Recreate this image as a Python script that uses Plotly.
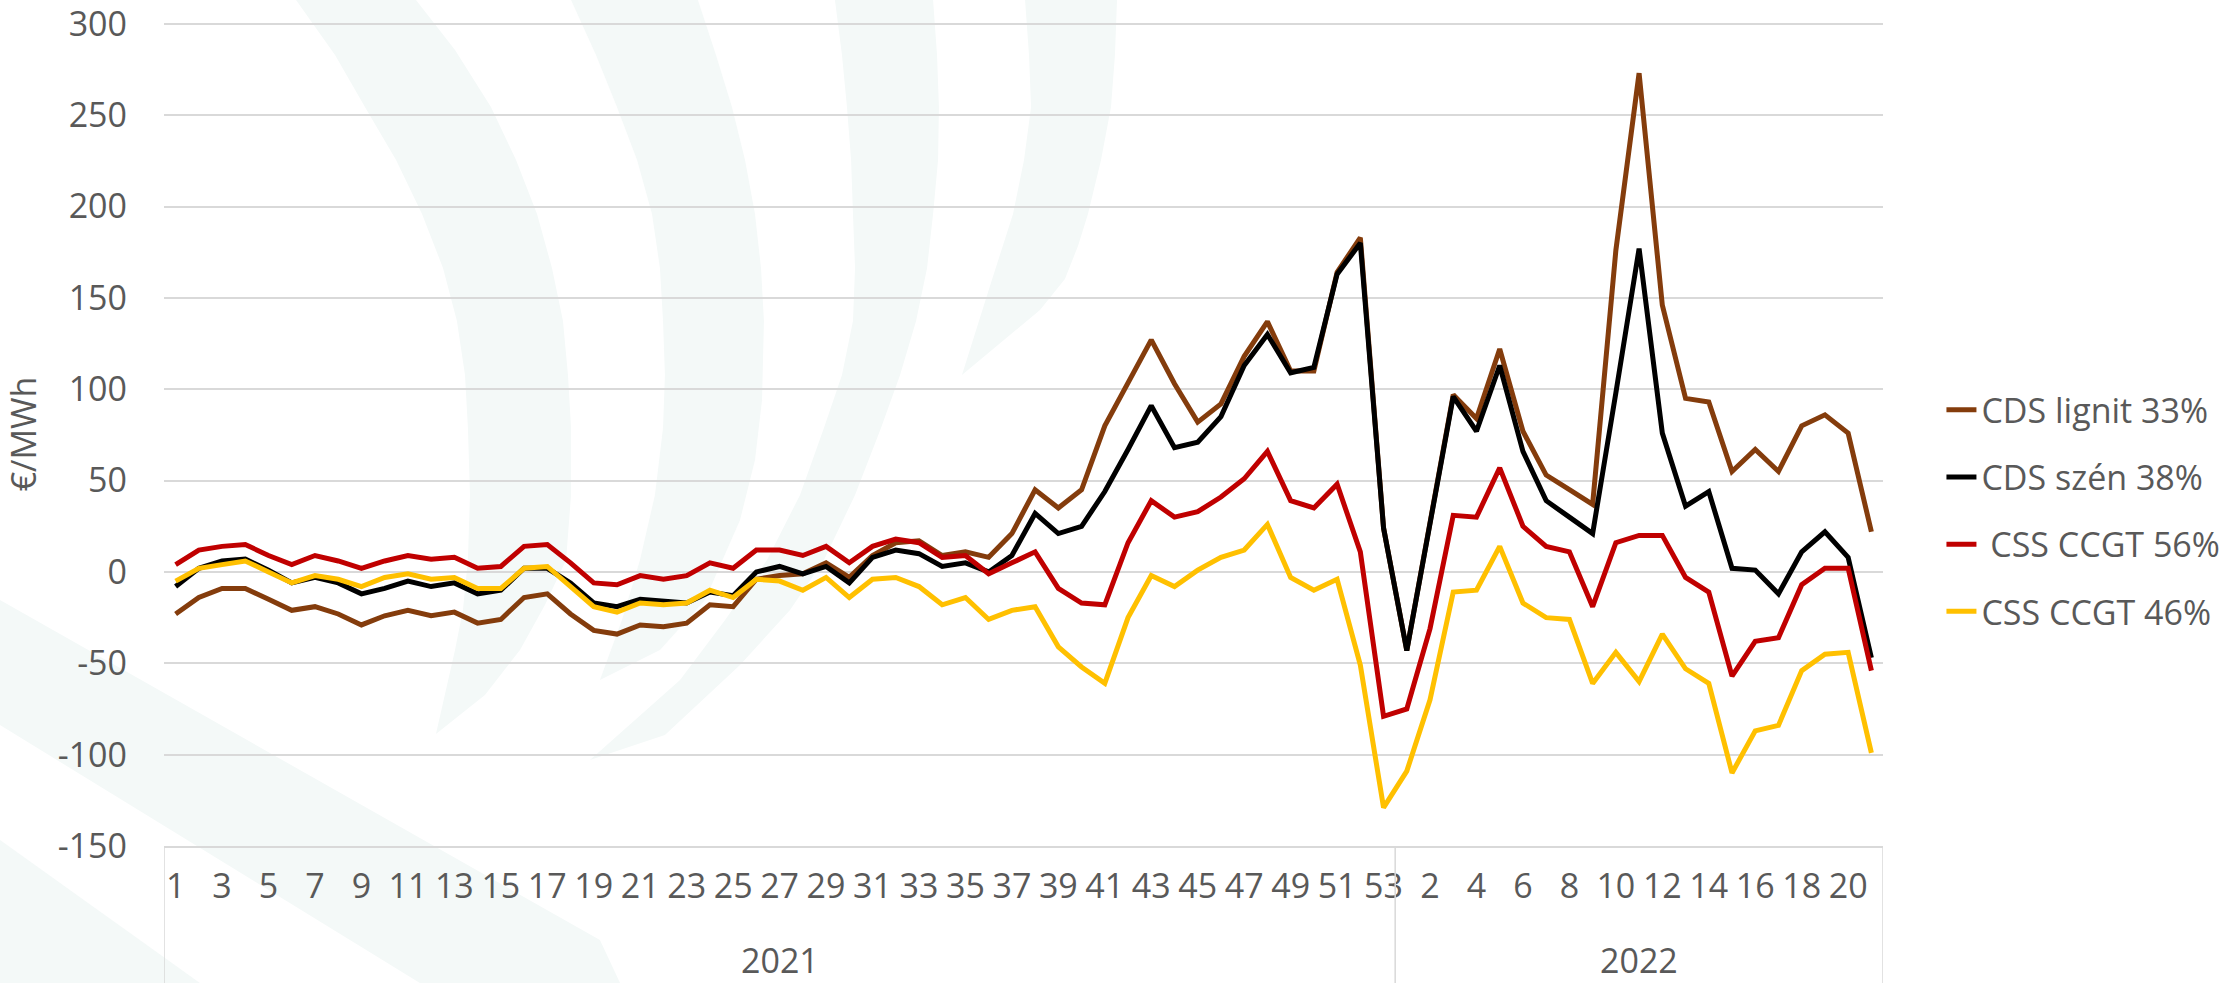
import plotly.graph_objects as go

# ---------------- data ----------------
weeks_2021 = list(range(1, 54))
weeks_2022 = list(range(1, 22))
years = ["2021"] * len(weeks_2021) + ["2022"] * len(weeks_2022)
weeks = weeks_2021 + weeks_2022

cds_lignit_33 = [
    -23, -14, -9, -9, -15, -21, -19, -23, -29, -24,
    -21, -24, -22, -28, -26, -14, -12, -23, -32, -34,
    -29, -30, -28, -18, -19, -4, -2, -1, 5, -3,
    9, 16, 17, 9, 11, 8, 21, 45, 35, 45,
    80, 103, 127, 103, 82, 92, 118, 137, 110, 110,
    164, 183, 24,
    -43, 26, 97, 84, 122, 77, 53, 45, 37, 176,
    273, 146, 95, 93, 55, 67, 55, 80, 86, 76, 22,
]
cds_szen_38 = [
    -8, 2, 6, 7, 1, -6, -3, -6, -12, -9,
    -5, -8, -6, -12, -10, 2, 2, -6, -17, -19,
    -15, -16, -17, -11, -13, 0, 3, -1, 3, -6,
    8, 12, 10, 3, 5, 0, 9, 32, 21, 25,
    44, 67, 91, 68, 71, 85, 113, 130, 109, 112,
    163, 180, 24,
    -43, 26, 96, 77, 113, 66, 39, 30, 21, 98,
    177, 76, 36, 44, 2, 1, -12, 11, 22, 8, -47,
]
css_ccgt_56 = [
    4, 12, 14, 15, 9, 4, 9, 6, 2, 6,
    9, 7, 8, 2, 3, 14, 15, 5, -6, -7,
    -2, -4, -2, 5, 2, 12, 12, 9, 14, 5,
    14, 18, 16, 8, 9, -1, 5, 11, -9, -17,
    -18, 16, 39, 30, 33, 41, 51, 66, 39, 35,
    48, 11, -79,
    -75, -31, 31, 30, 57, 25, 14, 11, -19, 16,
    20, 20, -3, -11, -57, -38, -36, -7, 2, 2, -54,
]
css_ccgt_46 = [
    -5, 2, 4, 6, 0, -6, -2, -4, -8, -3,
    -1, -4, -3, -9, -9, 2, 3, -8, -19, -22,
    -17, -18, -17, -10, -14, -4, -5, -10, -3, -14,
    -4, -3, -8, -18, -14, -26, -21, -19, -41, -52,
    -61, -25, -2, -8, 1, 8, 12, 26, -3, -10,
    -4, -51, -129,
    -109, -70, -11, -10, 14, -17, -25, -26, -61, -44,
    -60, -34, -53, -61, -110, -87, -84, -54, -45, -44, -99,
]

series_names = ["CDS lignit 33%", "CDS szén 38%", " CSS CCGT 56%", "CSS CCGT 46%"]
series_values = [cds_lignit_33, cds_szen_38, css_ccgt_56, css_ccgt_46]
series_colors = ["#843C0C", "#000000", "#C00000", "#FFC000"]

y_ticks = [-150, -100, -50, 0, 50, 100, 150, 200, 250, 300]
y_ticklabels = ["-150", "-100", "-50", "0", "50", "100", "150", "200", "250", "300"]
y_min, y_max = -150, 301   # tiny headroom so the 300 gridline is not clipped

# ---------------- figure ----------------
W, H = 2236, 983
ML, MR, MB = 164, 353, 137
PX_PER_UNIT = 822 / 450.0
MT = int(round(24 - (y_max - 300) * PX_PER_UNIT))
PW, PH = W - ML - MR, H - MT - MB

x_idx = list(range(len(weeks)))
fig = go.Figure()
for i, (name, vals, col) in enumerate(zip(series_names, series_values, series_colors)):
    fig.add_trace(go.Scatter(
        x=x_idx, y=vals, name=name, mode="lines",
        line=dict(color=col, width=5),
        legendgroup="g%d" % i,
        customdata=[[y, w] for y, w in zip(years, weeks)],
        hovertemplate="%{customdata[0]} / %{customdata[1]}: %{y}<extra>" + name + "</extra>",
    ))

txt = "#595959"
fontfam = "Open Sans, Noto Sans, sans-serif"
FS = 34

# faint decorative watermark bands (pixel outline -> paper coords)
def poly_path(pts):
    pp = [((px - ML) / PW, (H - MB - py) / PH) for (px, py) in pts]
    s = "M %.4f %.4f " % pp[0]
    for p in pp[1:]:
        s += "L %.4f %.4f " % p
    return s + "Z"

wm_color = "#F4F9F8"
watermark = [
    [(296, 0), (335, 55), (365, 107), (396, 160), (422, 214), (443, 268), (457, 321), (465, 375),
     (468, 428), (470, 495), (468, 560), (463, 610), (455, 650), (436, 734),
     (485, 695), (520, 650), (545, 605), (566, 560), (571, 495), (571, 428), (568, 375),
     (563, 321), (552, 268), (537, 214), (516, 160), (491, 107), (455, 50), (416, 0)],
    [(571, 0), (596, 55), (617, 107), (637, 160), (652, 214), (660, 268), (663, 321), (665, 375),
     (663, 428), (655, 495), (640, 560), (622, 620), (600, 680),
     (660, 650), (705, 600), (740, 520), (755, 460), (762, 400), (764, 321), (761, 268),
     (755, 214), (745, 160), (732, 107), (716, 55), (698, 0)],
    [(835, 0), (842, 55), (847, 107), (851, 160), (853, 214), (855, 268), (853, 321), (842, 375),
     (824, 428), (800, 495), (767, 560), (725, 620), (680, 680), (590, 760),
     (665, 735), (740, 665), (790, 610), (824, 560), (855, 495), (881, 428), (900, 375),
     (916, 321), (927, 268), (933, 214), (938, 160), (939, 107), (937, 55), (933, 0)],
    [(1025, 0), (1029, 55), (1031, 107), (1024, 160), (1013, 214), (990, 286), (962, 375),
     (1040, 310), (1065, 279), (1078, 246), (1088, 214), (1101, 160), (1111, 107),
     (1115, 55), (1117, 0)],
    [(0, 600), (600, 940), (620, 983), (420, 983), (0, 725)],
    [(0, 840), (0, 983), (200, 983)],
]
shapes = []
for poly in watermark:
    shapes.append(dict(type="path", xref="paper", yref="paper", path=poly_path(poly),
                       fillcolor=wm_color, line=dict(width=0), layer="below"))

# category group dividers below the axis
n21 = len(weeks_2021)
for xb in [-0.5, n21 - 0.5, len(weeks) - 0.5]:
    shapes.append(dict(type="line", xref="x", yref="paper", x0=xb, x1=xb,
                       y0=0, y1=-MB / PH, line=dict(color="#D9D9D9", width=1.5)))

annotations = []
for yr, lo, hi in [("2021", 0, n21 - 1), ("2022", n21, len(weeks) - 1)]:
    annotations.append(dict(x=(lo + hi) / 2, y=-114 / PH, xref="x", yref="paper",
                            text=yr, showarrow=False, yanchor="middle",
                            font=dict(size=FS, color=txt, family=fontfam)))

tickvals = x_idx[::2]
ticktext = [str(w) for w in weeks[::2]]

fig.update_layout(
    width=W, height=H,
    margin=dict(l=ML, r=MR, t=MT, b=MB, autoexpand=False),
    paper_bgcolor="white", plot_bgcolor="rgba(0,0,0,0)",
    font=dict(family=fontfam, size=FS, color=txt),
    shapes=shapes, annotations=annotations,
    showlegend=True,
    legend=dict(x=1.034, y=0.407, xanchor="left", yanchor="middle",
                traceorder="grouped", tracegroupgap=20,
                font=dict(size=FS, color=txt, family=fontfam),
                bgcolor="rgba(0,0,0,0)"),
    xaxis=dict(range=[-0.5, len(weeks) - 0.5], tickvals=tickvals, ticktext=ticktext,
               showgrid=False, zeroline=False, showline=True, linecolor="#D9D9D9",
               linewidth=1.5, ticks="", ticklabelstandoff=9, tickangle=0, automargin=False,
               tickfont=dict(size=FS, color=txt)),
    yaxis=dict(range=[y_min, y_max], tickvals=y_ticks, ticktext=y_ticklabels,
               showgrid=True, gridcolor="#D9D9D9",
               gridwidth=1.5, zeroline=False, showline=False, ticks="", automargin=False,
               ticklabeloverflow="allow",
               ticklabelstandoff=36, tickfont=dict(size=FS, color=txt),
               title=dict(text="€/MWh", font=dict(size=FS, color=txt), standoff=18)),
)

fig.write_html("out.html", config={"displayModeBar": False},
               post_script="document.body.style.margin='0px';")
